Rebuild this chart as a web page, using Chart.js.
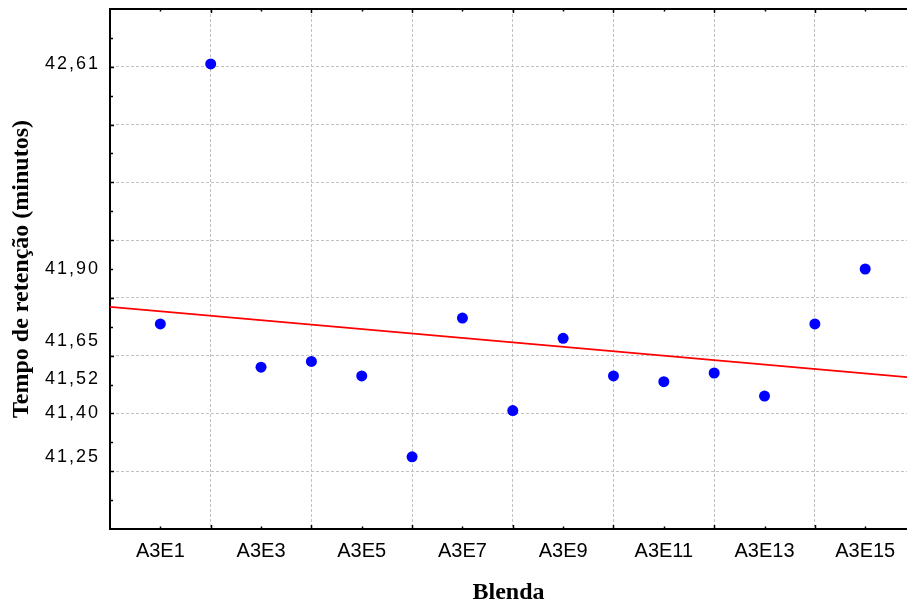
<!DOCTYPE html>
<html>
<head>
<meta charset="utf-8">
<title>Tempo de retenção por blenda</title>
<script src="https://cdn.jsdelivr.net/npm/chart.js@4.4.1/dist/chart.umd.min.js"></script>
<style>
  html, body { margin: 0; padding: 0; overflow: hidden; background: #ffffff; }
  #wrap { width: 907px; height: 606px; }
  canvas { display: block; }
</style>
</head>
<body>
<div id="wrap"><canvas id="chart" width="907" height="606"></canvas></div>
<script>
// Blends on the horizontal axis
const blends = ['A3E1', 'A3E2', 'A3E3', 'A3E4', 'A3E5', 'A3E6', 'A3E7', 'A3E8',
                'A3E9', 'A3E10', 'A3E11', 'A3E12', 'A3E13', 'A3E14', 'A3E15'];

// Retention time (minutes) measured for each blend
const retentionTimes = [41.71, 42.61, 41.56, 41.58, 41.53, 41.25, 41.73, 41.41,
                        41.66, 41.53, 41.51, 41.54, 41.46, 41.71, 41.90];

// Values written on the vertical axis
const yTickLabels = [41.25, 41.40, 41.52, 41.65, 41.90, 42.61];

// Horizontal grid lines of the vertical axis
const yGridValues = [41.2, 41.4, 41.6, 41.8, 42.0, 42.2, 42.4, 42.6];

// Axis ranges (the plot frame is open on the right, just past the last blend)
const xRange = [0, 15.83];
const yRange = [41.0, 42.8];

const fmt = v => v.toFixed(2).replace('.', ',');

// Least-squares straight line through the measured points
function linearFit(xs, ys) {
  const n = xs.length;
  const mx = xs.reduce((s, v) => s + v, 0) / n;
  const my = ys.reduce((s, v) => s + v, 0) / n;
  let sxy = 0, sxx = 0;
  for (let i = 0; i < n; i++) {
    sxy += (xs[i] - mx) * (ys[i] - my);
    sxx += (xs[i] - mx) * (xs[i] - mx);
  }
  const b = sxy / sxx;
  return { a: my - b * mx, b };
}

const xs = blends.map((_, i) => i + 1);
const fit = linearFit(xs, retentionTimes);
const fitLine = xRange.map(x => ({ x, y: fit.a + fit.b * x }));
const points = retentionTimes.map((v, i) => ({ x: xs[i], y: v }));

const GRID = '#c2c2c2';
const SANS = '"Liberation Sans", Arial, Helvetica, sans-serif';
const SERIF = '"Liberation Serif", "Times New Roman", Times, serif';

// Slightly wider letter spacing for the vertical-axis numbers
const spacedYLabels = {
  id: 'spacedYLabels',
  beforeDraw(chart) {
    const s = chart.scales.y;
    if (s && !s._spaced) {
      const base = s.drawLabels;
      s.drawLabels = function (area) {
        this.ctx.save();
        this.ctx.letterSpacing = '2px';
        base.call(this, area);
        this.ctx.restore();
      };
      s._spaced = true;
    }
  }
};

// Top frame line and short tick marks pointing into the plot
const frameTicks = {
  id: 'frameTicks',
  afterDraw(chart) {
    const { ctx, chartArea: a, scales: { x, y } } = chart;
    ctx.save();
    ctx.strokeStyle = '#000';
    ctx.lineWidth = 2;
    ctx.beginPath();
    ctx.moveTo(a.left - 1, a.top);
    ctx.lineTo(a.right, a.top);
    ctx.stroke();

    ctx.lineWidth = 1.5;
    ctx.beginPath();
    for (let v = Math.floor(x.min) + 1; v <= x.max; v++) {
      const px = Math.round(x.getPixelForValue(v)) + 0.5;
      const len = v % 2 === 0 ? 4 : 2.5;
      ctx.moveTo(px, a.bottom);
      ctx.lineTo(px, a.bottom - len);
      ctx.moveTo(px, a.top);
      ctx.lineTo(px, a.top + len);
    }
    const step = 0.1;
    const n = Math.round((y.max - y.min) / step);
    for (let k = 1; k < n; k++) {
      const py = Math.round(y.getPixelForValue(y.min + k * step)) + 0.5;
      const len = k % 2 === 0 ? 4 : 3;
      ctx.moveTo(a.left, py);
      ctx.lineTo(a.left + len, py);
    }
    ctx.stroke();
    ctx.restore();
  }
};

new Chart(document.getElementById('chart'), {
  type: 'scatter',
  data: {
    datasets: [
      {
        label: 'Tempo de retenção',
        data: points,
        showLine: false,
        pointRadius: 5.5,
        pointHoverRadius: 5.5,
        pointBackgroundColor: '#0000ff',
        pointBorderWidth: 0,
        order: 0
      },
      {
        label: 'Ajuste linear',
        data: fitLine,
        showLine: true,
        borderColor: '#ff0000',
        borderWidth: 1.8,
        pointRadius: 0,
        pointHoverRadius: 0,
        fill: false,
        order: 1
      }
    ]
  },
  options: {
    responsive: false,
    animation: false,
    devicePixelRatio: 1,
    layout: { autoPadding: false, padding: { top: 9, left: 0, right: 0, bottom: 0 } },
    plugins: { legend: { display: false }, tooltip: { enabled: false } },
    scales: {
      x: {
        type: 'linear',
        min: xRange[0],
        max: xRange[1],
        afterBuildTicks: s => {
          s.ticks = xs.map(v => ({ value: v }));
        },
        afterFit: s => {
          s.height = 77;
          s.paddingLeft = 0;
          s.paddingRight = 0;
        },
        ticks: {
          autoSkip: false,
          maxRotation: 0,
          padding: 10,
          color: '#000',
          font: { family: SANS, size: 20 },
          callback: v => (v % 2 === 1 && blends[v - 1]) ? blends[v - 1] : ''
        },
        grid: {
          drawTicks: false,
          lineWidth: 1,
          color: c => (c.tick && c.tick.value % 2 === 0) ? GRID : 'rgba(0,0,0,0)'
        },
        border: { display: true, color: '#000', width: 2, dash: [3, 2] },
        title: {
          display: true,
          text: 'Blenda',
          color: '#000',
          padding: 0,
          font: { family: SERIF, size: 24, weight: 'bold', lineHeight: 1.1 }
        }
      },
      y: {
        type: 'linear',
        min: yRange[0],
        max: yRange[1],
        afterBuildTicks: s => {
          const list = yGridValues.map(v => ({ value: v, gridLine: true, showLabel: false }));
          yTickLabels.forEach(v => {
            const hit = list.find(t => Math.abs(t.value - v) < 1e-9);
            if (hit) hit.showLabel = true;
            else list.push({ value: v, gridLine: false, showLabel: true });
          });
          list.sort((p, q) => p.value - q.value);
          s.ticks = list;
        },
        afterFit: s => {
          s.width = 110;
          s.paddingTop = 0;
          s.paddingBottom = 0;
        },
        ticks: {
          autoSkip: false,
          padding: 10,
          color: '#000',
          font: { family: SANS, size: 18 },
          callback: (v, i, ticks) => ticks[i].showLabel ? fmt(v) : ''
        },
        grid: {
          drawTicks: false,
          lineWidth: 1,
          color: c => (c.tick && c.tick.gridLine) ? GRID : 'rgba(0,0,0,0)'
        },
        border: { display: true, color: '#000', width: 2, dash: [3, 2] },
        title: {
          display: true,
          text: 'Tempo de retenção (minutos)',
          color: '#000',
          padding: { top: 7.6, bottom: 0 },
          font: { family: SERIF, size: 24, weight: 'bold' }
        }
      }
    }
  },
  plugins: [spacedYLabels, frameTicks]
});
</script>
</body>
</html>
